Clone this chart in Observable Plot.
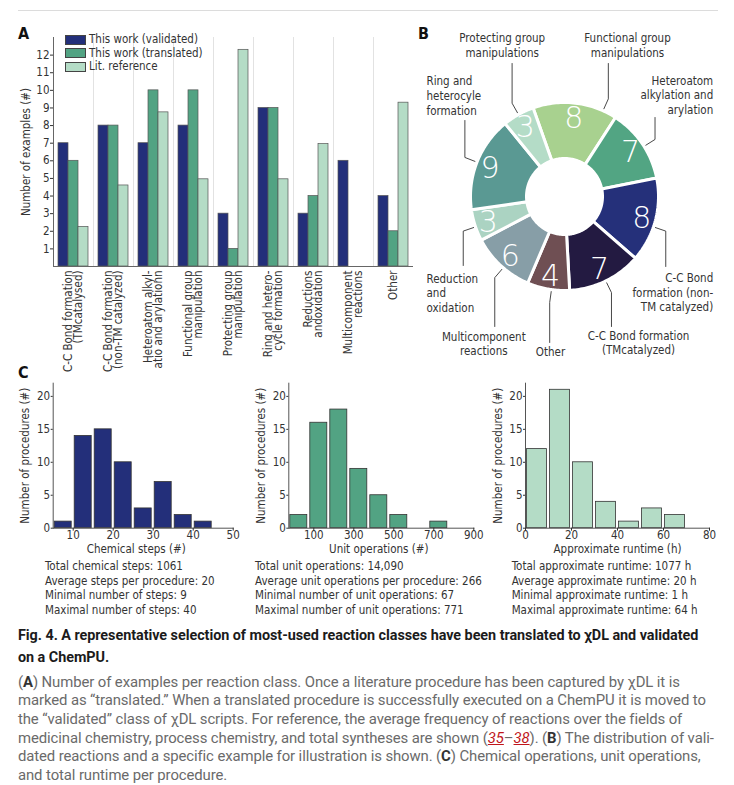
<!DOCTYPE html>
<html><head><meta charset="utf-8">
<script src="https://cdn.jsdelivr.net/npm/d3@7"></script>
<script src="https://cdn.jsdelivr.net/npm/@observablehq/plot@0.6"></script>
<style>
body{margin:0;background:#fff;}
#fig{position:relative;width:734px;height:785px;overflow:hidden;background:#fff;color:#333;
  font-family:'DejaVu Sans Condensed','DejaVu Sans',sans-serif;}
.abs{position:absolute;}
.plet{position:absolute;font-weight:bold;font-size:16px;color:#111;}
.leg{position:absolute;left:65px;font-size:11.5px;color:#333;white-space:nowrap;}
.leg span.sw{display:inline-block;width:19px;height:8px;border:0.8px solid #444;vertical-align:middle;margin-right:3px;}
.stats{position:absolute;top:559px;font-size:11.5px;line-height:14.7px;color:#333;white-space:nowrap;}
#cap{position:absolute;left:18px;top:625px;width:716px;font-family:Roboto,sans-serif;white-space:nowrap;}
#cap .ttl{font-weight:bold;font-size:14.4px;line-height:22px;color:#1b1b1b;letter-spacing:-0.05px;}
#cap .bd{margin-top:3.5px;font-size:14.9px;line-height:18.7px;color:#6a6a6a;letter-spacing:-0.1px;}
#cap .bd b{color:#333;}
#cap .ref{color:#c0151b;font-style:italic;text-decoration:underline;}
</style></head><body>
<div id="fig">
  <div class="abs" style="left:18px;top:10px;width:700px;height:1px;background:#dcdcdc"></div>
  <div class="plet" style="left:18px;top:24px">A</div>
  <div class="plet" style="left:418px;top:24px">B</div>
  <div class="plet" style="left:18px;top:363px">C</div>
  <div id="cap">
    <div class="ttl">Fig. 4. A representative selection of most-used reaction classes have been translated to χDL and validated<br>on a ChemPU.</div>
    <div class="bd">(<b>A</b>) Number of examples per reaction class. Once a literature procedure has been captured by χDL it is<br>marked as “translated.” When a translated procedure is successfully executed on a ChemPU it is moved to<br>the “validated” class of χDL scripts. For reference, the average frequency of reactions over the fields of<br>medicinal chemistry, process chemistry, and total syntheses are shown (<span class="ref">35</span>–<span class="ref">38</span>). (<b>B</b>) The distribution of vali-<br>dated reactions and a specific example for illustration is shown. (<b>C</b>) Chemical operations, unit operations,<br>and total runtime per procedure.</div>
  </div>
</div>
<script>
// ---------- DATA ----------
// Panel A
const categories = [
  "C-C Bond formation\n(TMcatalysed)",
  "C-C Bond formation\n(non-TM catalyzed)",
  "Heteroatom alkyl-\natio and arylationn",
  "Functional group\nmanipulation",
  "Protecting group\nmanipulation",
  "Ring and hetero-\ncycle formation",
  "Reductions\nandoxidation",
  "Multicomponent\nreactions",
  "Other"
];
const seriesNames = ["This work (validated)", "This work (translated)", "Lit. reference"];
const validated   = [7, 8, 7, 8, 3, 9, 3, 6, 4];
const translated  = [6, 8, 10, 10, 1, 9, 4, 0, 2];
const litReference = [2.25, 4.6, 8.75, 4.95, 12.3, 4.95, 6.95, 0, 9.3];
const yTicksA = [1,2,3,4,5,6,7,8,9,10,11,12];

// Panel B (clockwise from the top)
const sliceNames = [
  "Functional group\nmanipulations",
  "Heteroatom\nalkylation and\narylation",
  "C-C Bond\nformation (non-\nTM catalyzed)",
  "C-C Bond formation\n(TMcatalyzed)",
  "Other",
  "Multicomponent\nreactions",
  "Reduction\nand\noxidation",
  "Ring and\nheterocyle\nformation",
  "Protecting group\nmanipulations"
];
const sliceCounts = [8, 7, 8, 7, 4, 6, 3, 9, 3];

// Panel C
const stepsEdges  = [5, 10, 15, 20, 25, 30, 35, 40, 45];
const stepsCounts = [1, 14, 15, 10, 3, 7, 2, 1];
const unitEdges   = [-25, 75, 175, 275, 375, 475, 575, 675, 775];
const unitCounts  = [2, 16, 18, 9, 5, 2, 0, 1];
const runEdges    = [0, 10, 20, 30, 40, 50, 60, 70];
const runCounts   = [12, 21, 10, 4, 1, 3, 2];
const stepsTicks = [10, 20, 30, 40, 50];
const unitTicks  = [100, 300, 500, 700, 900];
const runTicks   = [0, 20, 40, 60, 80];
const countTicks = [0, 5, 10, 15, 20];
const stepsStats = ["Total chemical steps: 1061", "Average steps per procedure: 20", "Minimal number of steps: 9", "Maximal number of steps: 40"];
const unitStats  = ["Total unit operations: 14,090", "Average unit operations per procedure: 266", "Minimal number of unit operations: 67", "Maximal number of unit operations: 771"];
const runStats   = ["Total approximate runtime: 1077 h", "Average approximate runtime: 20 h", "Minimal approximate runtime: 1 h", "Maximal approximate runtime: 64 h"];

// ---------- STYLES ----------
const FONT = "'DejaVu Sans Condensed','DejaVu Sans',sans-serif";
const seriesColors = ["#232f7a", "#52a383", "#b4dcc6"];
const sliceColors = ["#a8d18f", "#52a583", "#25307a", "#231a41", "#6f4f53", "#879ea7", "#abd3c2", "#5a9993", "#b4dcc7"];
const fig = document.getElementById("fig");
function place(el, left, top) { el.style.position = "absolute"; el.style.left = left + "px"; el.style.top = top + "px"; fig.appendChild(el); }
const baseStyle = {fontFamily: FONT, fontSize: "11.5px", color: "#333", background: "transparent", overflow: "visible"};

// ---------- PANEL A ----------
const tableA = [];
categories.forEach((c, i) => {
  [validated, translated, litReference].forEach((arr, j) => {
    if (arr[i] > 0) tableA.push({category: c, series: seriesNames[j], value: arr[i]});
  });
});
const plotA = Plot.plot({
  width: 420, height: 380,
  marginLeft: 52, marginRight: 7, marginTop: 37, marginBottom: 114,
  style: baseStyle,
  fx: {domain: categories, padding: 0, label: null},
  x: {domain: seriesNames, paddingInner: 0, paddingOuter: 0.32, axis: null},
  y: {domain: [0, 13], label: null},
  color: {domain: seriesNames, range: seriesColors},
  marks: [
    Plot.frame({anchor: "left", stroke: "#e2e2e2"}),
    Plot.barY(tableA, {fx: "category", x: "series", y: "value", fill: "series", stroke: "#555", strokeWidth: 0.7}),
    Plot.ruleY([0], {stroke: "#666"}),
    Plot.frame({anchor: "left", stroke: "#666", facetAnchor: "left"}),
    Plot.axisY({ticks: yTicksA, tickSize: 3, tickPadding: 1, fontSize: 11.5, label: "Number of examples (#)", labelAnchor: "center", labelArrow: "none", labelOffset: 32}),
    Plot.axisFx({anchor: "bottom", tickRotate: -90, tickSize: 0, tickPadding: 4, fontSize: 11.5, lineHeight: 0.93, label: null})
  ]
});
place(plotA, 0, 0);

// legend
seriesNames.forEach((s, i) => {
  const d = document.createElement("div");
  d.className = "leg";
  d.style.top = (32 + i * 13.7) + "px";
  d.innerHTML = `<span class="sw" style="background:${seriesColors[i]}"></span>${s}`;
  fig.appendChild(d);
});

// ---------- PANEL B ----------
const R_OUT = 94, R_IN = 38, R_NUM = 80, R_LEAD0 = 96, R_LEAD1 = 107;
const start = -19.5 * Math.PI / 180;
const arcs = d3.pie().sort(null).startAngle(start).endAngle(start + 2 * Math.PI)(sliceCounts);
const ringPts = [];
arcs.forEach((a, i) => {
  const n = 40;
  for (let k = 0; k <= n; k++) { const t = a.startAngle + (a.endAngle - a.startAngle) * k / n; ringPts.push({slice: sliceNames[i], x: R_OUT * Math.sin(t), y: -R_OUT * Math.cos(t)}); }
  for (let k = n; k >= 0; k--) { const t = a.startAngle + (a.endAngle - a.startAngle) * k / n; ringPts.push({slice: sliceNames[i], x: R_IN * Math.sin(t), y: -R_IN * Math.cos(t)}); }
});
const numLabels = arcs.map((a, i) => { const m = (a.startAngle + a.endAngle) / 2; return {x: R_NUM * Math.sin(m), y: -R_NUM * Math.cos(m), v: String(sliceCounts[i])}; });
// annotation layout (offsets relative to donut centre, px): leader angle shift, leader end y, label anchor
const labelLayout = [
  {angleShift: 17.5, endY: -133, tx: 63, ty: -152, anchor: "middle"},
  {angleShift: 2, endY: -79, tx: 148.7, ty: -102, anchor: "end"},
  {angleShift: 4, endY: 70, tx: 148.7, ty: 95.5, anchor: "end"},
  {angleShift: 0, endY: 130, tx: 74, ty: 145.7, anchor: "middle"},
  {angleShift: -2, endY: 146, tx: -14, ty: 154.7, anchor: "middle"},
  {angleShift: -2, endY: 130, tx: -80.7, ty: 146.8, anchor: "middle"},
  {angleShift: -1, endY: 69, tx: -138, ty: 96.2, anchor: "start"},
  {angleShift: 0, endY: -76, tx: -138, ty: -101.2, anchor: "start"},
  {angleShift: 0, endY: -133, tx: -62.3, ty: -152, anchor: "middle"}
];
const leaders = [];
const outerLabels = [];
arcs.forEach((a, i) => {
  const L = labelLayout[i];
  const m = (a.startAngle + a.endAngle) / 2 + L.angleShift * Math.PI / 180;
  const p1 = {x: R_LEAD1 * Math.sin(m), y: -R_LEAD1 * Math.cos(m)};
  leaders.push({slice: sliceNames[i], x: R_LEAD0 * Math.sin(m), y: -R_LEAD0 * Math.cos(m)});
  leaders.push({slice: sliceNames[i], ...p1});
  leaders.push({slice: sliceNames[i], x: p1.x, y: L.endY});
  outerLabels.push({text: sliceNames[i], x: L.tx, y: L.ty, anchor: L.anchor});
});
const textOpts = (anchor) => ({x: "x", y: "y", text: "text", textAnchor: anchor, lineAnchor: "middle", lineHeight: 1.28, fontSize: 11.5, fill: "#333"});
const plotB = Plot.plot({
  width: 324, height: 345, margin: 0,
  style: baseStyle,
  x: {domain: [-154, 170], range: [0, 324], axis: null},
  y: {domain: [-176, 169], range: [0, 345], axis: null},
  color: {domain: sliceNames, range: sliceColors},
  marks: [
    Plot.line(leaders, {x: "x", y: "y", z: "slice", stroke: "#333", strokeWidth: 0.9}),
    Plot.line(ringPts, {x: "x", y: "y", z: "slice", fill: "slice", stroke: "white", strokeWidth: 3, curve: "linear-closed"}),
    Plot.text(numLabels, {x: "x", y: "y", text: "v", fill: "white", fontSize: 30, fontWeight: 200, fontFamily: "'DejaVu Sans', sans-serif", dy: 1}),
    Plot.text(outerLabels.filter(d => d.anchor === "start"), textOpts("start")),
    Plot.text(outerLabels.filter(d => d.anchor === "middle"), textOpts("middle")),
    Plot.text(outerLabels.filter(d => d.anchor === "end"), textOpts("end"))
  ]
});
place(plotB, 410, 20);

// ---------- PANEL C ----------
function hist({edges, counts, domain, ticks, xLabel, labelDx, fill, width, marginLeft, marginRight}) {
  const rows = counts.map((c, i) => ({x1: edges[i], x2: edges[i + 1], count: c})).filter(d => d.count > 0);
  return Plot.plot({
    width, height: 195, marginLeft, marginRight, marginTop: 22.7, marginBottom: 27.3,
    style: baseStyle,
    x: {domain},
    y: {domain: [0, 22]},
    marks: [
      Plot.rectY(rows, {x1: "x1", x2: "x2", y: "count", fill, stroke: "#333", strokeWidth: 0.8, insetLeft: 1.5, insetRight: 1.5}),
      Plot.frame({anchor: "left", stroke: "#555"}),
      Plot.frame({anchor: "bottom", stroke: "#555"}),
      Plot.axisX({ticks, tickSize: 3, tickPadding: 0, label: null, fontSize: 11.5}),
      Plot.axisY({ticks: countTicks, tickSize: 2, tickPadding: 1, fontSize: 11.5, label: "Number of procedures (#)", labelAnchor: "center", labelArrow: "none", labelOffset: 32}),
      Plot.text([xLabel], {text: d => d, frameAnchor: "bottom", textAnchor: "middle", dy: 24.5, dx: labelDx, fontSize: 11.5, fill: "#333"})
    ]
  });
}
place(hist({edges: stepsEdges, counts: stepsCounts, domain: [5, 50], ticks: stepsTicks, xLabel: "Chemical steps (#)", labelDx: -7, fill: seriesColors[0], width: 245, marginLeft: 52.7, marginRight: 12.3}), 0, 360);
place(hist({edges: unitEdges, counts: unitCounts, domain: [-25, 900], ticks: unitTicks, xLabel: "Unit operations (#)", labelDx: -2.5, fill: seriesColors[1], width: 245, marginLeft: 48.3, marginRight: 11.7}), 240, 360);
place(hist({edges: runEdges, counts: runCounts, domain: [0, 80], ticks: runTicks, xLabel: "Approximate runtime (h)", labelDx: 0, fill: seriesColors[2], width: 250, marginLeft: 45, marginRight: 21}), 480, 360);

[[stepsStats, 45], [unitStats, 255], [runStats, 511.7]].forEach(([lines, x]) => {
  const d = document.createElement("div");
  d.className = "stats";
  d.style.left = x + "px";
  d.innerHTML = lines.join("<br>");
  fig.appendChild(d);
});
</script>
</body></html>
